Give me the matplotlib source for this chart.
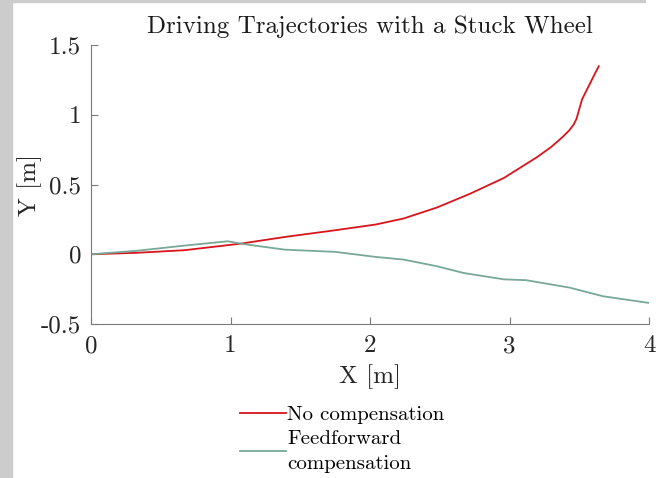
import matplotlib
matplotlib.use("Agg")
import matplotlib.pyplot as plt
from matplotlib.patches import Rectangle

plt.rcParams['font.family'] = 'serif'
plt.rcParams['font.serif'] = ['cmr10']
plt.rcParams['mathtext.fontset'] = 'cm'
plt.rcParams['axes.unicode_minus'] = False

# no compensation (red)
x_nocomp = [0.0, 0.32, 0.67, 0.98, 1.08, 1.39, 1.75, 2.04, 2.24, 2.48, 2.72,
            2.96, 3.20, 3.30, 3.38, 3.43, 3.46, 3.48, 3.50, 3.52, 3.55, 3.58, 3.61, 3.64]
y_nocomp = [0.0, 0.01, 0.029, 0.065, 0.077, 0.124, 0.172, 0.213, 0.256, 0.335, 0.435,
            0.547, 0.698, 0.77, 0.84, 0.89, 0.93, 0.97, 1.04, 1.11, 1.17, 1.23, 1.29, 1.348]

# feedforward compensation (green)
x_ff = [0.0, 0.32, 0.67, 0.98, 1.10, 1.39, 1.75, 2.04, 2.24, 2.48, 2.67,
        2.96, 3.12, 3.43, 3.67, 4.0]
y_ff = [0.0, 0.024, 0.062, 0.093, 0.072, 0.033, 0.017, -0.019, -0.038, -0.086, -0.134,
        -0.18, -0.186, -0.239, -0.301, -0.349]

xticks = [0, 1, 2, 3, 4]
yticks = [-0.5, 0, 0.5, 1, 1.5]
yticklabels = ['-0.5', '0', '0.5', '1', '1.5']

fig = plt.figure(figsize=(6.63, 4.78), dpi=100)
fig.patches.append(Rectangle((0, 0), 12 / 663, 1, transform=fig.transFigure,
                             color='#cccccc', zorder=-1))
fig.patches.append(Rectangle((0, 1 - 2 / 478), 645 / 663, 2 / 478, transform=fig.transFigure,
                             color='#cccccc', zorder=-1))

ax = fig.add_axes([91 / 663, 1 - 324 / 478, 558 / 663, 279 / 478])
ax.plot(x_nocomp, y_nocomp, color='#d9141c', lw=1.3, label='No compensation')
ax.plot(x_ff, y_ff, color='#78a898', lw=1.3, label='Feedforward\ncompensation')

ax.set_xlim(0, 4)
ax.set_ylim(-0.5, 1.5)
ax.set_xticks(xticks)
ax.set_xticklabels([str(t) for t in xticks])
ax.set_yticks(yticks)
ax.set_yticklabels(yticklabels)
for s in ['top', 'right']:
    ax.spines[s].set_visible(False)
for s in ['left', 'bottom']:
    ax.spines[s].set_color('#7a7a7a')
    ax.spines[s].set_linewidth(0.8)
ax.tick_params(direction='in', length=5, width=0.8, color='#7a7a7a',
               labelsize=18, labelcolor='#262626')
ax.tick_params(axis='x', pad=8)
ax.tick_params(axis='y', pad=7)

ax.set_title('Driving Trajectories with a Stuck Wheel', fontsize=18, color='#1a1a1a', pad=9)
ax.set_xlabel('X [m]', fontsize=18, color='#262626', labelpad=5)
ax.set_ylabel('Y [m]', fontsize=18, color='#262626', labelpad=-1)

leg = ax.legend(loc='upper center', bbox_to_anchor=(0.45, -0.225), frameon=False,
                fontsize=15, handlelength=2.2, handletextpad=0.05, labelspacing=0.3)
for t in leg.get_texts():
    t.set_linespacing(1.45)

fig.savefig('out.png', dpi=100)
